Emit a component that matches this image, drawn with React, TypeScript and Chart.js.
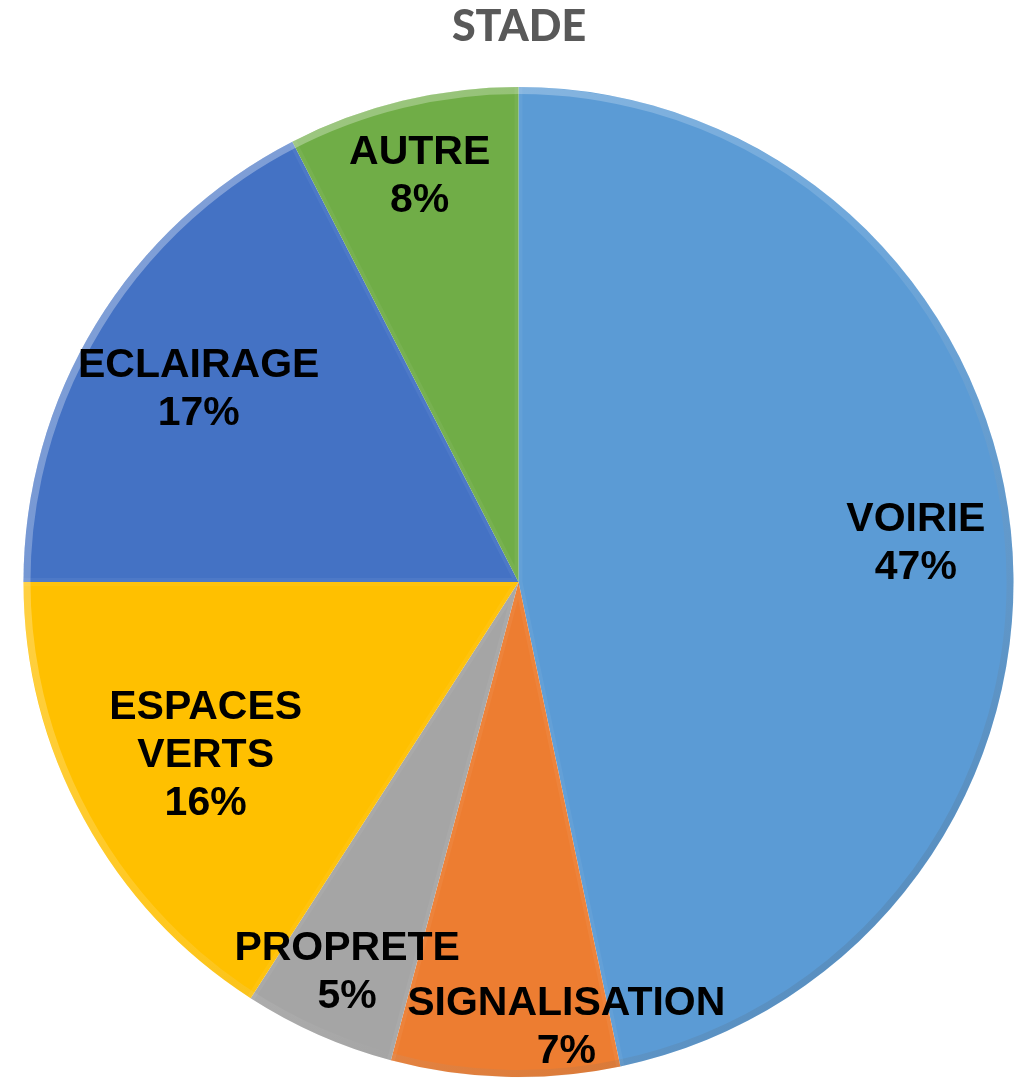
import React, { useEffect, useRef } from "react";
import { Chart, registerables } from "chart.js";

Chart.register(...registerables);

const chartTitle = "STADE";
const categories = ["VOIRIE", "SIGNALISATION", "PROPRETE", "ESPACES VERTS", "ECLAIRAGE", "AUTRE"];
const categoryLines = [["VOIRIE"], ["SIGNALISATION"], ["PROPRETE"], ["ESPACES", "VERTS"], ["ECLAIRAGE"], ["AUTRE"]];
const shares = [46.7, 7.45, 4.95, 15.9, 17.45, 7.55];
const sliceColors = ["#5B9BD5", "#ED7D31", "#A5A5A5", "#FFC000", "#4472C4", "#70AD47"];

// label placement (fraction of radius, angular shift in degrees)
const labelRadius = [0.807, 0.898, 0.856, 0.72, 0.757, 0.85];
const labelShift = [0, -7.7, 0, 0, 0, 0];

const LABEL_FONT = "bold 41px 'Liberation Sans', Arial, sans-serif";
const LINE_H = 48;

const bevelPlugin = {
  id: "bevel",
  afterDatasetsDraw(chart: any) {
    const ctx = chart.ctx;
    const meta = chart.getDatasetMeta(0);
    meta.data.forEach((arc: any) => {
      const p = arc.getProps(["x", "y", "startAngle", "endAngle", "outerRadius"], true);
      const R = p.outerRadius;
      ctx.save();
      ctx.beginPath();
      ctx.moveTo(p.x, p.y);
      ctx.arc(p.x, p.y, R, p.startAngle, p.endAngle);
      ctx.closePath();
      ctx.clip();
      const g = ctx.createLinearGradient(p.x - R, p.y - R, p.x + R, p.y + R);
      g.addColorStop(0, "rgba(255,255,255,0.40)");
      g.addColorStop(0.5, "rgba(255,255,255,0.12)");
      g.addColorStop(1, "rgba(0,0,0,0.16)");
      ctx.strokeStyle = g;
      ctx.lineWidth = 14;
      ctx.beginPath();
      ctx.arc(p.x, p.y, R, p.startAngle - 0.1, p.endAngle + 0.1);
      ctx.stroke();
      ctx.lineWidth = 8;
      ctx.strokeStyle = "rgba(255,255,255,0.05)";
      ctx.beginPath();
      ctx.moveTo(p.x, p.y);
      ctx.lineTo(p.x + Math.cos(p.startAngle) * R, p.y + Math.sin(p.startAngle) * R);
      ctx.moveTo(p.x, p.y);
      ctx.lineTo(p.x + Math.cos(p.endAngle) * R, p.y + Math.sin(p.endAngle) * R);
      ctx.stroke();
      ctx.restore();
    });
  },
};

const labelPlugin = {
  id: "sliceLabels",
  afterDatasetsDraw(chart: any) {
    const ctx = chart.ctx;
    const meta = chart.getDatasetMeta(0);
    const data = chart.data.datasets[0].data as number[];
    const total = data.reduce((a, b) => a + b, 0);
    ctx.save();
    ctx.font = LABEL_FONT;
    ctx.fillStyle = "#000000";
    ctx.textAlign = "center";
    ctx.textBaseline = "alphabetic";
    const capHalf = (41 * 0.716) / 2;
    meta.data.forEach((arc: any, i: number) => {
      const p = arc.getProps(["x", "y", "startAngle", "endAngle", "outerRadius"], true);
      const mid = (p.startAngle + p.endAngle) / 2 + (labelShift[i] * Math.PI) / 180;
      const r = p.outerRadius * labelRadius[i];
      const cx = p.x + Math.cos(mid) * r;
      const cy = p.y + Math.sin(mid) * r;
      const lines = [...categoryLines[i], Math.round((data[i] / total) * 100) + "%"];
      const n = lines.length;
      lines.forEach((t, j) => {
        ctx.fillText(t, cx, cy + (j - (n - 1) / 2) * LINE_H + capHalf);
      });
    });
    ctx.restore();
  },
};

const titlePlugin = {
  id: "topTitle",
  afterDraw(chart: any) {
    const ctx = chart.ctx;
    ctx.save();
    ctx.font = "900 43px Lato, 'Open Sans', sans-serif";
    ctx.fillStyle = "#595959";
    ctx.textAlign = "center";
    ctx.textBaseline = "alphabetic";
    ctx.fillText(chartTitle, 519, 41);
    ctx.restore();
  },
};

export default function App() {
  const ref = useRef<HTMLCanvasElement | null>(null);
  useEffect(() => {
    if (!ref.current) return;
    const chart = new Chart(ref.current, {
      type: "pie",
      data: {
        labels: categories,
        datasets: [
          {
            data: shares,
            backgroundColor: sliceColors,
            borderColor: sliceColors,
            borderWidth: 0,
          },
        ],
      },
      options: {
        responsive: false,
        animation: false,
        layout: { padding: { top: 87, bottom: 1, left: 9, right: 0 } },
        plugins: {
          legend: { display: false },
          tooltip: { enabled: false },
          title: { display: false },
        },
      },
      plugins: [bevelPlugin, labelPlugin, titlePlugin],
    });
    return () => chart.destroy();
  }, []);
  return (
    <div style={{ position: "fixed", left: 0, top: 0, width: 1028, height: 1078, background: "#fff" }}>
      <canvas ref={ref} width={1028} height={1078} style={{ width: 1028, height: 1078, display: "block" }} />
    </div>
  );
}
